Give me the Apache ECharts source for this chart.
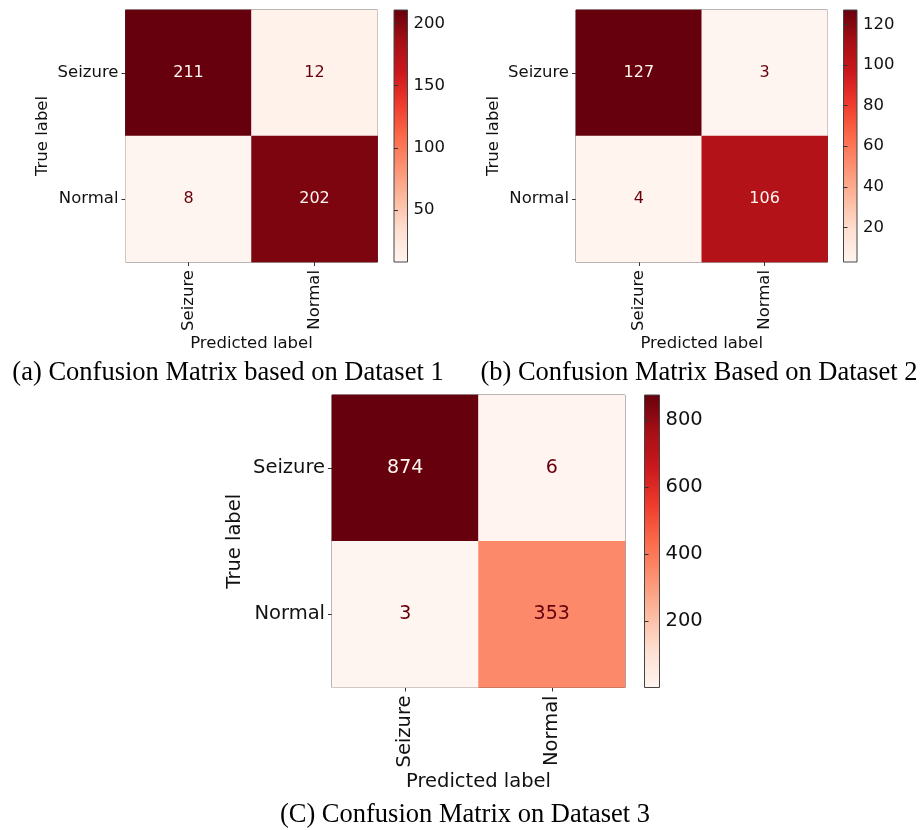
<!DOCTYPE html>
<html>
<head>
<meta charset="utf-8">
<script src="https://cdn.jsdelivr.net/npm/echarts@6/dist/echarts.min.js"></script>
<style>
html,body{margin:0;padding:0;background:#fff;}
#chart{width:922px;height:830px;}
</style>
</head>
<body>
<div id="chart"></div>
<script>
// ---- data ----
const classLabels = ['Seizure', 'Normal'];
const cm1 = [[211, 12], [8, 202]];
const cm2 = [[127, 3], [4, 106]];
const cm3 = [[874, 6], [3, 353]];
const cbTicks1 = [50, 100, 150, 200];
const cbTicks2 = [20, 40, 60, 80, 100, 120];
const cbTicks3 = [200, 400, 600, 800];
const captions = [
  '(a) Confusion Matrix based on Dataset 1',
  '(b) Confusion Matrix Based on Dataset 2',
  '(C) Confusion Matrix on Dataset 3'
];
const xName = 'Predicted label';
const yName = 'True label';

// ---- style / layout ----
const reds = ['#fff5f0','#fee0d2','#fcbba1','#fc9272','#fb6a4a','#ef3b2c','#cb181d','#a50f15','#67000d'];
const FONT = 'DejaVu Sans';
const panels = [
  {cm: cm1, ticks: cbTicks1, grid: {left: 125.5, top: 10, width: 252, height: 252}, cb: {left: 394, top: 10, width: 13.5, height: 252}, fs: 16.5, cellFs: 16, nameGapX: 70, nameGapY: 74, cap: {x: 228, y: 373}},
  {cm: cm2, ticks: cbTicks2, grid: {left: 576, top: 10, width: 251.5, height: 252}, cb: {left: 843.5, top: 10, width: 13.5, height: 252}, fs: 16.5, cellFs: 16, nameGapX: 70, nameGapY: 74, cap: {x: 699, y: 373}},
  {cm: cm3, ticks: cbTicks3, grid: {left: 332, top: 395, width: 293, height: 292.5}, cb: {left: 644.5, top: 395, width: 15, height: 292.5}, fs: 19.5, cellFs: 19, nameGapX: 84, nameGapY: 87, cap: {x: 465, y: 815}}
];

const option = {
  backgroundColor: '#fff',
  animation: false,
  grid: [], xAxis: [], yAxis: [], series: [], visualMap: [], graphic: []
};

panels.forEach((p, i) => {
  const flat = p.cm.flat();
  const vmin = Math.min(...flat), vmax = Math.max(...flat);
  const thresh = (vmin + vmax) / 2;
  const gMain = option.grid.length;
  option.grid.push(Object.assign({show: true, borderColor: '#444', borderWidth: 1, backgroundColor: 'transparent'}, p.grid));
  const gCb = option.grid.length;
  option.grid.push(Object.assign({
    show: true, borderColor: '#444', borderWidth: 1,
    backgroundColor: new echarts.graphic.LinearGradient(0, 1, 0, 0, reds.map((c, k) => ({offset: k / (reds.length - 1), color: c})))
  }, p.cb));

  const xi = option.xAxis.length;
  option.xAxis.push({
    type: 'category', gridIndex: gMain, data: classLabels,
    name: xName, nameLocation: 'middle', nameGap: p.nameGapX,
    nameTextStyle: {fontFamily: FONT, fontSize: p.fs, color: '#111'},
    axisLine: {show: false},
    axisTick: {show: true, alignWithLabel: true, length: 4, lineStyle: {color: '#333'}},
    axisLabel: {rotate: 90, margin: 8, fontFamily: FONT, fontSize: p.fs, color: '#111'},
    splitLine: {show: false}, splitArea: {show: false}
  });
  option.xAxis.push({type: 'value', gridIndex: gCb, show: false, min: 0, max: 1});
  const yi = option.yAxis.length;
  option.yAxis.push({
    type: 'category', gridIndex: gMain, data: classLabels, inverse: true,
    name: yName, nameLocation: 'middle', nameGap: p.nameGapY, nameRotate: 90,
    nameTextStyle: {fontFamily: FONT, fontSize: p.fs, color: '#111'},
    axisLine: {show: false},
    axisTick: {show: true, alignWithLabel: true, length: 4, lineStyle: {color: '#333'}},
    axisLabel: {margin: 7, fontFamily: FONT, fontSize: p.fs, color: '#111'},
    splitLine: {show: false}, splitArea: {show: false}
  });
  option.yAxis.push({
    type: 'value', gridIndex: gCb, position: 'right', min: vmin, max: vmax,
    axisLine: {show: false},
    axisTick: {show: true, length: 4, customValues: p.ticks, lineStyle: {color: '#333'}},
    axisLabel: {margin: 6, customValues: p.ticks, fontFamily: FONT, fontSize: p.fs, color: '#111'},
    splitLine: {show: false}
  });

  const data = [];
  p.cm.forEach((row, r) => row.forEach((v, c) => {
    data.push({value: [c, r, v], label: {color: v > thresh ? reds[0] : reds[reds.length - 1]}});
  }));
  const si = option.series.length;
  option.series.push({
    type: 'heatmap', xAxisIndex: xi, yAxisIndex: yi, data: data,
    label: {show: true, fontFamily: FONT, fontSize: p.cellFs, formatter: (d) => d.value[2]},
    emphasis: {disabled: true}
  });
  option.visualMap.push({
    type: 'continuous', show: false, seriesIndex: si, dimension: 2,
    min: vmin, max: vmax, inRange: {color: reds}
  });
  option.graphic.push({
    type: 'text', x: p.cap.x, y: p.cap.y,
    style: {text: captions[i], font: '26.5px "Liberation Serif"', fill: '#000', textAlign: 'center', textVerticalAlign: 'middle'}
  });
});

const chart = echarts.init(document.getElementById('chart'), null, {renderer: 'canvas'});
chart.setOption(option);
</script>
</body>
</html>
